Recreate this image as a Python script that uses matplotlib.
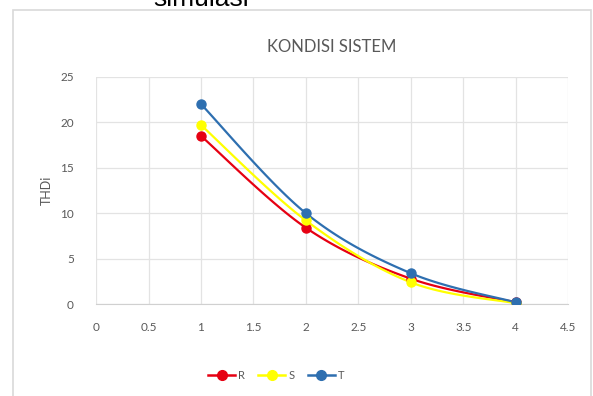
import numpy as np
import matplotlib.pyplot as plt
from matplotlib.patches import Rectangle

plt.rcParams['font.family'] = ['Lato', 'DejaVu Sans']

x = [1, 2, 3, 4]
thd_r = [18.5, 8.4, 2.8, 0.2]
thd_s = [19.7, 9.2, 2.4, 0.1]
thd_t = [22.0, 10.0, 3.4, 0.2]


def smooth(xs, ys, n=30):
    # Catmull-Rom style bezier segments, like a spreadsheet "smoothed line"
    pts = np.column_stack([xs, ys]).astype(float)
    out = []
    for i in range(len(pts) - 1):
        p0 = pts[i - 1] if i > 0 else pts[i]
        p1, p2 = pts[i], pts[i + 1]
        p3 = pts[i + 2] if i + 2 < len(pts) else pts[i + 1]
        c1 = p1 + (p2 - p0) / 6
        c2 = p2 - (p3 - p1) / 6
        t = np.linspace(0, 1, n)[:, None]
        seg = ((1 - t) ** 3 * p1 + 3 * (1 - t) ** 2 * t * c1
               + 3 * (1 - t) * t ** 2 * c2 + t ** 3 * p2)
        out.append(seg if i == 0 else seg[1:])
    seg = np.vstack(out)
    return seg[:, 0], seg[:, 1]


fig = plt.figure(figsize=(5.93, 3.96), dpi=100)
ax = fig.add_axes([0.162, 0.232, 0.796, 0.574])

series = [('R', thd_r, '#e60012'), ('S', thd_s, '#ffff00'), ('T', thd_t, '#2e6fb0')]
for name, ys, col in series:
    sx, sy = smooth(x, ys)
    ax.plot(sx, sy, color=col, lw=1.6, zorder=3)
    ax.plot(x, ys, 'o', color=col, ms=6.5, zorder=4)
    ax.plot([], [], '-o', color=col, lw=1.8, ms=7, label=name)

ax.set_xlim(0, 4.5)
ax.set_ylim(0, 25)
ax.set_xticks(np.arange(0, 4.6, 0.5))
ax.set_xticklabels(['0', '0.5', '1', '1.5', '2', '2.5', '3', '3.5', '4', '4.5'])
ax.set_yticks(range(0, 26, 5))
ax.grid(True, color='#e3e3e3', lw=0.9)
ax.set_axisbelow(True)
for side in ['top', 'right', 'left']:
    ax.spines[side].set_visible(False)
ax.spines['bottom'].set_color('#d0d0d0')
ax.tick_params(length=0, colors='#595959', labelsize=8.5)
ax.tick_params(axis='x', pad=13)
ax.tick_params(axis='y', pad=16)
ax.set_ylabel('THDi', color='#595959', fontsize=9, labelpad=5)
ax.set_title('KONDISI SISTEM', color='#595959', fontsize=12, pad=18)

fig.legend(loc='center', bbox_to_anchor=(0.466, 0.053), ncol=3, frameon=False,
           fontsize=8, handlelength=2.4, handletextpad=0.3, columnspacing=1.2,
           labelcolor='#595959')

# chart frame and the clipped caption above it
fig.patches.append(Rectangle((13 / 593, -0.01), 578 / 593, 1 - 10 / 396 + 0.01,
                             transform=fig.transFigure, fill=False,
                             edgecolor='#d9d9d9', lw=1.2))
fig.text(201 / 593, 1 - 6 / 396, 'simulasi', fontsize=19, ha='center',
         va='baseline', family='Liberation Sans', color='black')

fig.savefig('out.png', dpi=100)
